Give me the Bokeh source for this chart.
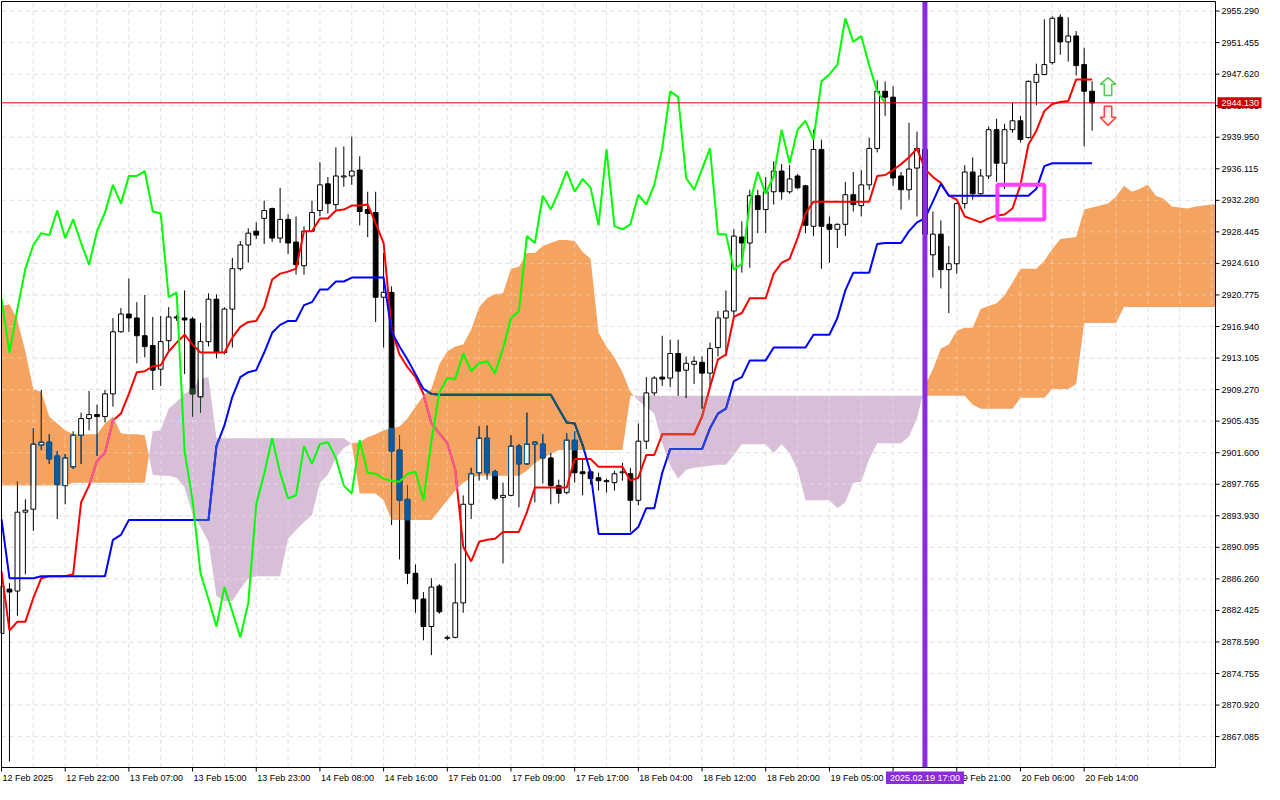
import numpy as np
from bokeh.plotting import figure
from bokeh.models import Range1d
from bokeh.core.properties import value
from bokeh.embed import file_html
from bokeh.resources import INLINE

# ---------------- data ----------------
opens = [2879.63, 2885.02, 2884.78, 2894.37, 2894.73, 2902.52, 2902.88, 2901.20, 2897.60, 2899.88,
         2903.72, 2905.75, 2906.23, 2905.99, 2908.75, 2916.30, 2918.46, 2917.98, 2915.82, 2914.62,
         2911.75, 2915.22, 2918.10, 2917.98, 2917.86, 2908.39, 2915.10, 2920.26, 2913.78, 2919.06,
         2923.97, 2926.85, 2928.53, 2930.08, 2931.28, 2927.69, 2929.96, 2927.21, 2924.33, 2928.53,
         2931.04, 2934.28, 2931.76, 2935.12, 2935.24, 2935.96, 2931.16, 2930.80, 2920.50, 2921.09,
         2901.92, 2895.93, 2886.94, 2883.82, 2880.47, 2885.38, 2879.03, 2879.15, 2883.34, 2895.33,
         2899.16, 2903.36, 2899.28, 2896.17, 2896.41, 2902.40, 2900.24, 2902.64, 2902.64, 2900.96,
         2897.60, 2896.77, 2903.12, 2899.28, 2899.28, 2898.56, 2898.20, 2897.96, 2899.16, 2899.04,
         2895.81, 2903.00, 2908.87, 2910.79, 2910.67, 2913.66, 2911.63, 2912.35, 2912.59, 2911.27,
         2914.38, 2917.98, 2918.82, 2927.81, 2927.09, 2932.84, 2931.16, 2933.32, 2935.84, 2933.32,
         2935.24, 2934.04, 2929.12, 2938.47, 2929.36, 2928.76, 2929.36, 2932.96, 2931.64, 2934.16,
         2938.59, 2945.54, 2944.82, 2935.24, 2933.56, 2936.20, 2938.47, 2925.65, 2928.17, 2923.85,
         2924.57, 2931.88, 2935.72, 2933.08, 2935.24, 2940.87, 2936.79, 2940.87, 2941.95, 2939.91,
         2946.62, 2947.58, 2949.02, 2954.53, 2951.54, 2952.26, 2948.78, 2945.54]
highs = [2885.98, 2885.74, 2898.08, 2895.93, 2904.56, 2909.23, 2903.84, 2901.80, 2901.44, 2904.20,
         2906.47, 2909.11, 2907.43, 2909.23, 2917.98, 2919.18, 2922.77, 2919.90, 2920.78, 2918.10,
         2918.22, 2919.30, 2918.34, 2921.33, 2918.10, 2917.38, 2920.97, 2920.85, 2919.30, 2925.29,
         2927.33, 2928.88, 2929.60, 2932.24, 2931.40, 2933.80, 2930.56, 2930.32, 2929.12, 2932.24,
         2936.91, 2935.12, 2938.71, 2938.83, 2940.03, 2937.63, 2933.32, 2933.32, 2925.89, 2921.81,
         2903.72, 2897.60, 2888.02, 2884.66, 2886.34, 2885.62, 2879.39, 2888.14, 2896.41, 2899.76,
         2904.79, 2904.91, 2899.52, 2897.96, 2903.72, 2902.64, 2906.47, 2903.00, 2903.84, 2901.56,
         2898.32, 2903.96, 2904.20, 2900.96, 2899.52, 2899.16, 2898.44, 2899.40, 2900.36, 2899.76,
         2905.15, 2910.79, 2910.91, 2915.82, 2915.34, 2915.34, 2913.30, 2913.30, 2913.30, 2914.98,
         2918.82, 2921.33, 2928.76, 2929.72, 2933.56, 2933.56, 2935.12, 2937.03, 2936.68, 2936.56,
         2935.48, 2934.16, 2940.87, 2939.67, 2930.32, 2929.48, 2934.52, 2935.72, 2935.96, 2939.91,
         2946.86, 2946.74, 2946.14, 2935.72, 2941.71, 2940.63, 2938.95, 2930.92, 2929.84, 2926.73,
         2932.00, 2936.56, 2937.51, 2936.08, 2941.23, 2942.19, 2941.59, 2944.11, 2942.55, 2946.86,
         2948.90, 2954.29, 2954.65, 2954.89, 2954.53, 2952.85, 2950.82, 2946.74]
lows = [2879.03, 2864.05, 2881.78, 2886.82, 2892.09, 2901.92, 2900.24, 2893.53, 2895.33, 2899.64,
        2900.24, 2904.32, 2901.20, 2905.27, 2907.19, 2916.18, 2916.30, 2912.47, 2913.18, 2909.23,
        2909.71, 2914.02, 2917.62, 2911.15, 2905.99, 2906.47, 2914.50, 2913.06, 2913.54, 2914.38,
        2923.73, 2924.69, 2927.57, 2926.97, 2927.21, 2927.09, 2925.77, 2923.25, 2923.25, 2928.41,
        2930.32, 2930.68, 2931.16, 2933.92, 2934.16, 2929.24, 2927.81, 2917.50, 2914.38, 2892.81,
        2888.62, 2885.62, 2882.14, 2878.79, 2876.99, 2882.02, 2878.79, 2879.03, 2882.14, 2893.53,
        2898.20, 2898.32, 2895.81, 2888.14, 2896.29, 2894.97, 2900.12, 2895.57, 2897.84, 2895.33,
        2895.45, 2896.53, 2897.96, 2896.41, 2897.72, 2897.00, 2896.77, 2897.00, 2898.20, 2891.97,
        2895.21, 2902.04, 2908.51, 2909.71, 2909.59, 2908.51, 2908.27, 2909.95, 2906.95, 2909.71,
        2913.30, 2913.30, 2918.10, 2923.49, 2924.09, 2928.29, 2928.29, 2931.76, 2932.36, 2933.08,
        2933.68, 2928.29, 2927.93, 2923.97, 2924.69, 2926.49, 2927.93, 2930.92, 2930.32, 2933.56,
        2938.11, 2942.55, 2934.04, 2931.16, 2932.36, 2930.32, 2927.33, 2922.89, 2921.57, 2918.58,
        2923.37, 2931.28, 2932.36, 2932.96, 2934.88, 2934.52, 2933.68, 2940.51, 2939.31, 2939.79,
        2943.87, 2947.46, 2948.78, 2949.98, 2949.14, 2947.46, 2938.83, 2940.75]
closes = [2885.38, 2884.66, 2894.37, 2894.61, 2902.64, 2902.88, 2900.84, 2897.72, 2900.96, 2903.72,
          2905.75, 2906.23, 2905.99, 2908.75, 2916.30, 2918.46, 2917.98, 2915.82, 2914.50, 2911.63,
          2915.10, 2918.10, 2917.98, 2917.74, 2908.75, 2915.10, 2920.26, 2913.78, 2919.06, 2923.97,
          2926.85, 2928.29, 2928.05, 2931.04, 2927.69, 2929.96, 2927.09, 2924.45, 2928.53, 2930.80,
          2934.16, 2931.88, 2935.24, 2935.24, 2935.84, 2930.92, 2930.68, 2920.50, 2921.09, 2901.80,
          2895.81, 2886.94, 2883.82, 2880.47, 2885.26, 2882.26, 2879.15, 2883.34, 2895.33, 2899.04,
          2903.36, 2899.16, 2896.05, 2896.41, 2902.40, 2900.24, 2902.64, 2902.88, 2900.96, 2897.60,
          2896.65, 2903.12, 2899.16, 2899.04, 2898.44, 2898.20, 2898.08, 2899.04, 2899.28, 2895.81,
          2903.00, 2908.87, 2910.67, 2910.55, 2913.66, 2911.51, 2912.47, 2912.71, 2911.27, 2914.26,
          2917.98, 2918.82, 2927.93, 2927.09, 2932.84, 2931.16, 2933.32, 2935.84, 2933.32, 2934.88,
          2933.80, 2929.24, 2938.47, 2929.12, 2928.76, 2929.36, 2932.96, 2931.76, 2934.16, 2938.59,
          2945.54, 2944.82, 2935.00, 2933.56, 2936.08, 2938.59, 2928.17, 2928.17, 2923.85, 2924.57,
          2931.88, 2935.72, 2933.08, 2935.24, 2940.87, 2936.79, 2940.87, 2941.95, 2939.67, 2946.74,
          2947.58, 2948.78, 2954.41, 2951.54, 2952.26, 2948.66, 2945.54, 2944.13]

# Ichimoku lines
tenkan = [2887.18, 2879.99, 2881.06, 2881.06, 2883.94, 2886.34, 2886.58, 2886.58, 2886.58, 2886.82,
          2895.57, 2897.60, 2900.60, 2901.56, 2905.51, 2906.35, 2908.75, 2911.39, 2911.51, 2912.11,
          2912.23, 2913.90, 2914.98, 2915.94, 2914.74, 2913.78, 2913.78, 2913.78, 2913.78, 2915.58,
          2916.90, 2917.50, 2917.62, 2919.30, 2922.65, 2923.37, 2923.61, 2923.97, 2928.53, 2928.53,
          2930.08, 2930.08, 2931.04, 2931.16, 2931.64, 2931.64, 2931.76, 2929.48, 2927.09, 2916.54,
          2913.54, 2911.99, 2910.79, 2908.75, 2905.15, 2903.96, 2902.76, 2899.52, 2890.17, 2888.38,
          2890.77, 2891.01, 2891.13, 2891.97, 2891.97, 2891.97, 2894.37, 2897.36, 2897.36, 2897.36,
          2897.36, 2897.36, 2900.84, 2900.84, 2900.84, 2899.88, 2899.88, 2899.88, 2899.88, 2898.20,
          2898.56, 2901.32, 2901.32, 2903.84, 2903.84, 2903.84, 2903.84, 2903.84, 2905.99, 2909.59,
          2912.94, 2913.54, 2918.10, 2918.58, 2920.38, 2920.38, 2920.38, 2923.37, 2924.69, 2925.17,
          2927.69, 2930.68, 2932.12, 2932.12, 2932.12, 2932.12, 2932.12, 2932.12, 2932.12, 2932.12,
          2935.24, 2935.36, 2935.96, 2936.68, 2937.51, 2938.59, 2936.08, 2935.12, 2934.40, 2932.84,
          2932.36, 2930.32, 2929.96, 2929.60, 2930.08, 2930.44, 2930.56, 2931.28, 2934.16, 2939.07,
          2940.75, 2943.15, 2943.99, 2944.23, 2944.35, 2946.98, 2946.98, 2946.98]
kijun = [2893.53, 2886.34, 2886.34, 2886.34, 2886.34, 2886.58, 2886.58, 2886.58, 2886.58, 2886.58,
         2886.58, 2886.58, 2886.58, 2886.58, 2891.01, 2891.61, 2893.41, 2893.41, 2893.41, 2893.41,
         2893.41, 2893.41, 2893.41, 2893.41, 2893.41, 2893.41, 2893.41, 2902.40, 2904.91, 2908.39,
         2910.79, 2911.39, 2911.63, 2913.78, 2916.18, 2917.14, 2917.62, 2917.62, 2919.54, 2919.90,
         2921.45, 2921.45, 2922.41, 2922.41, 2922.89, 2922.89, 2922.89, 2922.89, 2922.89, 2916.30,
         2914.50, 2912.94, 2911.15, 2909.35, 2908.75, 2908.63, 2908.63, 2908.63, 2908.63, 2908.63,
         2908.63, 2908.63, 2908.63, 2908.63, 2908.63, 2908.63, 2908.63, 2908.63, 2908.63, 2908.63,
         2906.95, 2905.27, 2905.15, 2902.52, 2899.16, 2891.73, 2891.73, 2891.73, 2891.73, 2891.73,
         2892.57, 2894.85, 2894.85, 2899.16, 2902.04, 2902.04, 2902.04, 2902.04, 2902.04, 2904.56,
         2906.35, 2906.95, 2910.31, 2910.79, 2912.82, 2912.82, 2912.82, 2914.38, 2914.38, 2914.38,
         2914.38, 2914.38, 2915.94, 2915.94, 2915.94, 2917.98, 2921.33, 2923.49, 2923.49, 2923.49,
         2926.97, 2927.09, 2927.09, 2927.09, 2928.53, 2929.60, 2930.08, 2932.12, 2934.28, 2932.84,
         2932.84, 2932.84, 2932.84, 2932.84, 2932.84, 2932.84, 2932.84, 2932.84, 2932.84, 2932.84,
         2933.68, 2936.44, 2936.79, 2936.79, 2936.79, 2936.79, 2936.79, 2936.79]
span_a = [2919.42, 2919.66, 2917.74, 2913.90, 2909.35, 2908.99, 2905.99, 2905.15, 2904.32, 2903.84,
          2903.84, 2903.84, 2903.84, 2905.15, 2905.99, 2903.96, 2903.84, 2903.84, 2903.72, 2898.92,
          2898.80, 2898.80, 2898.56, 2897.36, 2894.13, 2892.57, 2890.77, 2884.18, 2883.58, 2883.58,
          2885.02, 2886.34, 2886.58, 2886.58, 2886.58, 2886.58, 2891.13, 2892.21, 2893.17, 2894.01,
          2897.96, 2898.92, 2900.96, 2902.16, 2902.76, 2902.88, 2903.48, 2903.84, 2904.32, 2904.56,
          2904.79, 2905.75, 2907.19, 2908.51, 2909.35, 2912.35, 2913.90, 2914.50, 2914.74, 2916.54,
          2919.30, 2920.38, 2920.85, 2920.97, 2923.97, 2924.21, 2925.89, 2925.89, 2926.73, 2927.09,
          2927.45, 2927.45, 2927.33, 2926.01, 2925.17, 2916.18, 2914.50, 2913.18, 2911.39, 2908.99,
          2907.91, 2907.19, 2906.35, 2902.76, 2900.00, 2898.44, 2899.52, 2899.76, 2899.88, 2900.00,
          2900.12, 2900.12, 2901.32, 2902.64, 2902.64, 2902.64, 2902.64, 2901.56, 2902.64, 2901.56,
          2899.52, 2895.81, 2895.81, 2895.81, 2895.81, 2894.85, 2895.57, 2897.96, 2898.08, 2900.84,
          2902.76, 2902.76, 2902.76, 2902.76, 2903.60, 2905.75, 2909.71, 2911.75, 2914.26, 2914.74,
          2916.42, 2916.78, 2916.78, 2919.06, 2919.42, 2919.78, 2920.73, 2922.29, 2923.97, 2923.97,
          2923.97, 2924.93, 2926.37, 2927.57, 2927.69, 2927.81, 2931.16, 2931.40, 2931.64, 2931.88,
          2932.72, 2934.04, 2933.32, 2933.68, 2934.16, 2932.84, 2932.48, 2931.52, 2931.40, 2931.28,
          2931.52, 2931.64, 2931.76, 2931.76]
span_b = [2897.60, 2897.60, 2897.60, 2897.60, 2897.60, 2897.60, 2897.60, 2897.60, 2897.60, 2897.96,
          2897.96, 2897.96, 2897.96, 2897.96, 2897.96, 2897.96, 2897.96, 2897.96, 2897.96, 2904.20,
          2904.32, 2906.95, 2907.79, 2908.75, 2909.35, 2910.55, 2910.79, 2903.36, 2903.36, 2903.36,
          2903.36, 2903.36, 2903.36, 2903.36, 2903.36, 2903.36, 2903.36, 2903.36, 2903.36, 2903.36,
          2903.36, 2903.36, 2903.36, 2903.36, 2902.64, 2896.65, 2896.65, 2896.65, 2895.81, 2893.41,
          2893.41, 2893.41, 2893.41, 2893.41, 2893.41, 2894.61, 2895.81, 2897.00, 2897.96, 2898.56,
          2898.80, 2898.80, 2898.80, 2898.80, 2898.80, 2898.80, 2899.40, 2900.36, 2900.96, 2901.44,
          2901.92, 2901.92, 2901.92, 2901.92, 2901.92, 2901.92, 2901.92, 2901.92, 2901.92, 2908.51,
          2908.51, 2908.51, 2908.51, 2908.51, 2908.51, 2908.51, 2908.51, 2908.51, 2908.51, 2908.51,
          2908.51, 2908.51, 2908.51, 2908.51, 2908.51, 2908.51, 2908.51, 2908.51, 2908.51, 2908.51,
          2908.51, 2908.51, 2908.51, 2908.51, 2908.51, 2908.51, 2908.51, 2908.51, 2908.51, 2908.51,
          2908.51, 2908.51, 2908.51, 2908.51, 2908.51, 2908.51, 2908.51, 2908.51, 2908.51, 2908.51,
          2908.51, 2908.51, 2907.43, 2906.95, 2906.95, 2906.95, 2906.95, 2906.95, 2908.27, 2908.27,
          2908.27, 2908.27, 2909.35, 2909.35, 2909.35, 2909.95, 2917.38, 2917.38, 2917.38, 2917.38,
          2917.38, 2919.30, 2919.30, 2919.30, 2919.30, 2919.30, 2919.30, 2919.30, 2919.30, 2919.30,
          2919.30, 2919.30, 2919.30, 2919.30]
chikou_shift = 26

label_bars = [0, 8, 16, 24, 32, 40, 48, 56, 64, 72, 80, 88, 96, 104, 112, 120, 128, 136]
label_texts = ["12 Feb 2025", "12 Feb 22:00", "13 Feb 07:00", "13 Feb 15:00", "13 Feb 23:00",
               "14 Feb 08:00", "14 Feb 16:00", "17 Feb 01:00", "17 Feb 09:00", "17 Feb 17:00",
               "18 Feb 04:00", "18 Feb 12:00", "18 Feb 20:00", "19 Feb 05:00", "19 Feb 13:00",
               "19 Feb 21:00", "20 Feb 06:00", "20 Feb 14:00"]
price_ticks = [2955.290, 2951.455, 2947.620, 2943.785, 2939.950, 2936.115, 2932.280, 2928.445,
               2924.610, 2920.775, 2916.940, 2913.105, 2909.270, 2905.435, 2901.600, 2897.765,
               2893.930, 2890.095, 2886.260, 2882.425, 2878.590, 2874.755, 2870.920, 2867.085]
grid_bars = list(range(4, 153, 4))
last_price = 2944.13
marker_bar = 116
marker_text = "2025.02.19 17:00"
box_bars = (125.1, 131.0)
box_prices = (2929.96, 2934.16)
arrow_bar = 139
up_arrow_prices = (2947.20, 2946.38, 2945.03)     # tip, neck, tail
down_arrow_prices = (2943.71, 2942.39, 2941.39)   # tail, neck, tip

# colours
ORANGE, PURPLE = "#f4a460", "#d8bfd8"
INV = {True: "#0b5b9f", False: "#274027"}                 # black drawn inside orange / purple cloud
TENKAN_C, KIJUN_C, CHIKOU_C = "#ff0000", "#0000ff", "#00ff00"
TENKAN_IN = {True: "#f45b9f", False: "#d84027"}
KIJUN_IN = {True: "#0b5b60", False: "#2740d8"}

# chart window (data units) and its place on the canvas (pixels)
bar_lo, bar_hi = 0.0, 152.5
y_bot, y_top = 2863.33, 2956.45
W, H = 1264, 784
CH_L, CH_T, CH_W, CH_H = 1, 1, 1214, 766
FONT = "Liberation Sans"
FS = "9px"
GRID = "#d4d4d4"
HALF_BODY = 0.3

ppx = CH_W / (bar_hi - bar_lo)
ppy = CH_H / (y_top - y_bot)


def dx(px):
    return px / ppx


def dy(px):
    return px / ppy


p = figure(width=W, height=H,
           x_range=Range1d(bar_lo - dx(CH_L), bar_lo + dx(W - CH_L)),
           y_range=Range1d(y_top - dy(H - CH_T), y_top + dy(CH_T)),
           output_backend="svg", toolbar_location=None,
           x_axis_location=None, y_axis_location=None, min_border=0)
p.outline_line_color = None
p.background_fill_color = "white"
p.border_fill_color = "white"
p.xgrid.visible = False
p.ygrid.visible = False

n_gb, n_pt = len(grid_bars), len(price_ticks)


def draw_grid(color, alpha):
    p.segment(x0=grid_bars, y0=[y_bot] * n_gb, x1=grid_bars, y1=[y_top] * n_gb,
              line_color=color, line_alpha=alpha, line_dash="4 4", line_width=1)
    p.segment(x0=[bar_lo] * n_pt, y0=price_ticks, x1=[bar_hi] * n_pt, y1=price_ticks,
              line_color=color, line_alpha=alpha, line_dash="4 4", line_width=1)


draw_grid(GRID, 1.0)

# ---------------- cloud ----------------
def cloud_points(a, b, xmax):
    xs, aa, bb = [], [], []
    for i in range(len(a)):
        if i > 0:
            d0 = a[i - 1] - b[i - 1]
            d1 = a[i] - b[i]
            if d0 * d1 < 0:
                t = d0 / (d0 - d1)
                yc = a[i - 1] + t * (a[i] - a[i - 1])
                xs.append(i - 1 + t)
                aa.append(yc)
                bb.append(yc)
        xs.append(i)
        aa.append(a[i])
        bb.append(b[i])
    xs, aa, bb = np.array(xs, float), np.array(aa), np.array(bb)
    ae, be = np.interp(xmax, xs, aa), np.interp(xmax, xs, bb)
    keep = xs < xmax
    return (np.append(xs[keep], xmax), np.append(aa[keep], ae), np.append(bb[keep], be))


cx, ca, cb = cloud_points(span_a, span_b, bar_hi)
p.varea(x=cx, y1=cb, y2=np.maximum(ca, cb), fill_color=ORANGE, fill_alpha=1.0)
p.varea(x=cx, y1=ca, y2=np.maximum(ca, cb), fill_color=PURPLE, fill_alpha=1.0)
draw_grid("white", 0.35)

# ---------------- candles ----------------
o = np.array(opens)
c = np.array(closes)
h = np.array(highs)
l = np.array(lows)
bars = np.arange(len(c))
up = c >= o
p.segment(x0=bars, y0=l, x1=bars, y1=h, line_color="black", line_width=1)
p.vbar(x=bars[up], width=2 * HALF_BODY, top=c[up], bottom=o[up], fill_color="white", line_color="black", line_width=1)
p.vbar(x=bars[~up], width=2 * HALF_BODY, top=o[~up], bottom=c[~up], fill_color="black", line_color="black", line_width=1)

# parts of candles lying inside the cloud take the inverted cloud colour (as in the terminal)
seg = {"x0": [], "y0": [], "x1": [], "y1": [], "c": []}
fill = {"x": [], "top": [], "bottom": [], "c": []}


def add_seg(x0, y0, x1, y1, col):
    seg["x0"].append(x0); seg["y0"].append(y0); seg["x1"].append(x1); seg["y1"].append(y1); seg["c"].append(col)


for k in range(len(c)):
    lo_c, hi_c = min(span_a[k], span_b[k]), max(span_a[k], span_b[k])
    col = INV[span_a[k] >= span_b[k]]
    bt, bb = max(o[k], c[k]), min(o[k], c[k])
    for w0, w1 in ((l[k], bb), (bt, h[k])):
        s0, s1 = max(w0, lo_c), min(w1, hi_c)
        if s1 > s0:
            add_seg(k, s0, k, s1, col)
    s0, s1 = max(bb, lo_c), min(bt, hi_c)
    if s1 >= s0:
        if not up[k]:
            fill["x"].append(k); fill["top"].append(s1); fill["bottom"].append(s0); fill["c"].append(col)
        else:
            add_seg(k - HALF_BODY, s0, k - HALF_BODY, s1, col)
            add_seg(k + HALF_BODY, s0, k + HALF_BODY, s1, col)
            if lo_c <= bt <= hi_c:
                add_seg(k - HALF_BODY, bt, k + HALF_BODY, bt, col)
            if lo_c <= bb <= hi_c:
                add_seg(k - HALF_BODY, bb, k + HALF_BODY, bb, col)

p.segment(x0="x0", y0="y0", x1="x1", y1="y1", line_color="c", line_width=1, source=seg)
p.vbar(x="x", width=2 * HALF_BODY, top="top", bottom="bottom", fill_color="c", line_color="c",
       line_width=1, source=fill)

# ---------------- ichimoku lines ----------------
def in_cloud(L):
    out = {"x0": [], "y0": [], "x1": [], "y1": [], "orange": []}
    for k in range(len(L) - 1):
        a0, a1, b0, b1 = span_a[k], span_a[k + 1], span_b[k], span_b[k + 1]
        ts = [0.0]
        d0, d1 = a0 - b0, a1 - b1
        if d0 * d1 < 0:
            ts.append(d0 / (d0 - d1))
        ts.append(1.0)
        for i in range(len(ts) - 1):
            t0, t1 = ts[i], ts[i + 1]

            def at(v0, v1, t):
                return v0 + (v1 - v0) * t

            La, Lb = at(L[k], L[k + 1], t0), at(L[k], L[k + 1], t1)
            Aa, Ab = at(a0, a1, t0), at(a0, a1, t1)
            Ba, Bb = at(b0, b1, t0), at(b0, b1, t1)
            tm = 0.5 * (t0 + t1)
            orange = at(a0, a1, tm) >= at(b0, b1, tm)
            loa, lob = (Ba, Bb) if orange else (Aa, Ab)
            hia, hib = (Aa, Ab) if orange else (Ba, Bb)
            s_lo, s_hi = 0.0, 1.0
            for fa, fb in ((La - loa, Lb - lob), (hia - La, hib - Lb)):
                if fa >= 0 and fb >= 0:
                    continue
                if fa < 0 and fb < 0:
                    s_lo, s_hi = 1.0, 0.0
                    break
                r = fa / (fa - fb)
                if fa < 0:
                    s_lo = max(s_lo, r)
                else:
                    s_hi = min(s_hi, r)
            if s_hi > s_lo:
                out["x0"].append(k + t0 + (t1 - t0) * s_lo)
                out["x1"].append(k + t0 + (t1 - t0) * s_hi)
                out["y0"].append(La + (Lb - La) * s_lo)
                out["y1"].append(La + (Lb - La) * s_hi)
                out["orange"].append(orange)
    return out


for series, base_col, in_cols in ((tenkan, TENKAN_C, TENKAN_IN), (kijun, KIJUN_C, KIJUN_IN)):
    p.line(bars, series, line_color=base_col, line_width=2)
    ov = in_cloud(series)
    ov["c"] = [in_cols[f] for f in ov.pop("orange")]
    p.segment(x0="x0", y0="y0", x1="x1", y1="y1", line_color="c", line_width=2, line_cap="round", source=ov)

p.line(bars[:len(c) - chikou_shift], c[chikou_shift:], line_color=CHIKOU_C, line_width=2)

# ---------------- chart objects ----------------
p.segment(x0=[bar_lo], y0=[last_price], x1=[bar_hi], y1=[last_price], line_color="#e00000", line_width=1)
p.segment(x0=[marker_bar], y0=[y_bot], x1=[marker_bar], y1=[y_top], line_color="#8a2be2", line_width=5)
p.quad(left=[box_bars[0]], right=[box_bars[1]], bottom=[box_prices[0]], top=[box_prices[1]],
       fill_alpha=0, line_color="#ff40ff", line_width=4)

hw, sw = 1.0, 0.47
t1, n1, b1 = up_arrow_prices
p.patch([arrow_bar, arrow_bar + hw, arrow_bar + sw, arrow_bar + sw, arrow_bar - sw, arrow_bar - sw, arrow_bar - hw],
        [t1, n1, n1, b1, b1, n1, n1], fill_color="#f2fff0", line_color="#55cc55", line_width=1.5)
t2, n2, b2 = down_arrow_prices
p.patch([arrow_bar, arrow_bar + hw, arrow_bar + sw, arrow_bar + sw, arrow_bar - sw, arrow_bar - sw, arrow_bar - hw],
        [b2, n2, n2, t2, t2, n2, n2], fill_color="#fff2f2", line_color="#ff4040", line_width=1.5)

# ---------------- frame border ----------------
p.quad(left=[bar_lo], right=[bar_hi], bottom=[y_bot], top=[y_top], fill_alpha=0, line_color="black", line_width=1)

# ---------------- price scale (right) ----------------
p.segment(x0=[bar_hi] * n_pt, y0=price_ticks, x1=[bar_hi + dx(4)] * n_pt, y1=price_ticks,
          line_color="black", line_width=1)
p.text(x=[bar_hi + dx(6)] * n_pt, y=price_ticks, text=["%.3f" % t for t in price_ticks],
       text_align="left", text_baseline="middle", text_color="black",
       text_font=value(FONT), text_font_size=value(FS))

# ---------------- time scale (bottom) ----------------
n_lb = len(label_bars)
p.segment(x0=label_bars, y0=[y_bot] * n_lb, x1=label_bars, y1=[y_bot - dy(4)] * n_lb,
          line_color="black", line_width=1)
p.text(x=[b + dx(1) for b in label_bars], y=[y_bot - dy(5)] * n_lb, text=label_texts,
       text_align="left", text_baseline="top", text_color="black",
       text_font=value(FONT), text_font_size=value(FS))

# ---------------- highlighted price / time tags ----------------
p.quad(left=[bar_hi + dx(2)], right=[bar_hi + dx(46)],
       bottom=[last_price - dy(5.5)], top=[last_price + dy(5.5)],
       fill_color="#c80000", line_color=None)
p.text(x=[bar_hi + dx(6)], y=[last_price], text=["%.3f" % last_price],
       text_align="left", text_baseline="middle", text_color="white",
       text_font=value(FONT), text_font_size=value(FS))

p.quad(left=[marker_bar - dx(39)], right=[marker_bar + dx(39)],
       bottom=[y_bot - dy(16.5)], top=[y_bot - dy(4)],
       fill_color="#8a2be2", line_color=None)
p.text(x=[marker_bar], y=[y_bot - dy(5)], text=[marker_text],
       text_align="center", text_baseline="top", text_color="white",
       text_font=value(FONT), text_font_size=value(FS))

open("out.html", "w").write(file_html(p, INLINE))
